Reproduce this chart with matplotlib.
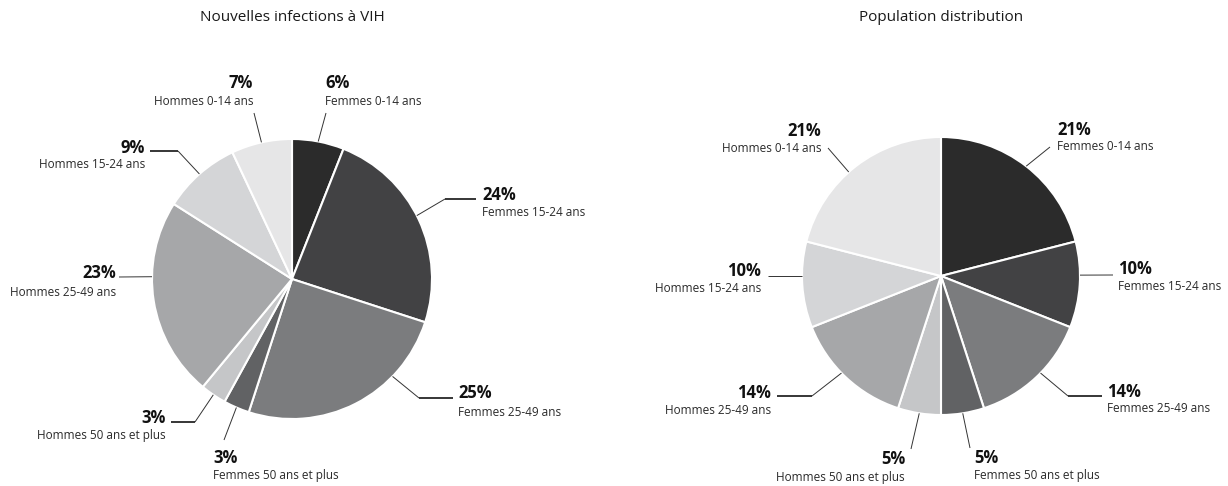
import numpy as np
import matplotlib.pyplot as plt

plt.rcParams['font.family'] = ['Open Sans', 'DejaVu Sans']

# data
categories = ['Femmes 0-14 ans', 'Femmes 15-24 ans', 'Femmes 25-49 ans', 'Femmes 50 ans et plus',
              'Hommes 50 ans et plus', 'Hommes 25-49 ans', 'Hommes 15-24 ans', 'Hommes 0-14 ans']
infections = [6, 24, 25, 3, 3, 23, 9, 7]
population = [21, 10, 14, 5, 5, 14, 10, 21]
titles = ['Nouvelles infections à VIH', 'Population distribution']
colors = ['#2b2b2b', '#424244', '#7b7c7e', '#616264', '#c5c6c8', '#a6a7a9', '#d4d5d7', '#e6e6e7']

W, H = 1228, 486

# layout in pixel coords (y from top): pie center/radius, then per label:
# (anchor fraction in wedge, leader path, ha, text x, pct y, name y)
left_layout = dict(center=(292, 279), r=140, title_y=18, labels=[
    (0.5, [(326, 113)], 'left', 325, 83, 102),
    (0.48, [(445, 199), (476, 199)], 'left', 482, 195, 213),
    (0.29, [(419, 398), (453, 398)], 'left', 458, 393, 413),
    (0.5, [(224, 440)], 'left', 213, 458, 476),
    (0.5, [(195, 422), (171, 422)], 'right', 166, 418, 436),
    (0.62, [(119, 277)], 'right', 116, 273, 293),
    (0.5, [(178, 151), (150, 151)], 'right', 145, 148, 165),
    (0.5, [(254, 113)], 'right', 253, 83, 102),
])
right_layout = dict(center=(941, 276), r=139, title_y=18, labels=[
    (0.5, [(1050, 147)], 'left', 1057, 130, 147),
    (0.39, [(1113, 275)], 'left', 1118, 269, 287),
    (0.45, [(1068, 396), (1102, 396)], 'left', 1107, 392, 409),
    (0.5, [(970, 448)], 'left', 974, 458, 476),
    (0.5, [(911, 449)], 'right', 905, 459, 477),
    (0.55, [(812, 396), (777, 396)], 'right', 771, 393, 411),
    (0.6, [(768, 276)], 'right', 761, 271, 288),
    (0.45, [(828, 148)], 'right', 821, 131, 149),
])

fig = plt.figure(figsize=(W / 100, H / 100), dpi=100)
ax = fig.add_axes([0, 0, 1, 1])

for values, title, lay in [(infections, titles[0], left_layout), (population, titles[1], right_layout)]:
    cx, cy = lay['center']
    r = lay['r']
    wedges, _ = ax.pie(values, colors=colors, startangle=90, counterclock=False,
                       center=(cx, H - cy), radius=r,
                       wedgeprops=dict(edgecolor='white', linewidth=1.5))
    ax.text(cx, H - lay['title_y'], title, ha='center', va='center', fontsize=11, color='#1a1a1a')
    for w, v, cat, (frac, path, ha, tx, ypct, yname) in zip(wedges, values, categories, lay['labels']):
        ang = np.deg2rad(w.theta2 - frac * (w.theta2 - w.theta1))
        x0 = cx + r * np.cos(ang)
        y0 = (H - cy) + r * np.sin(ang)
        xs = [x0] + [p[0] for p in path]
        ys = [y0] + [H - p[1] for p in path]
        ax.plot(xs[:2], ys[:2], color='#333333', lw=0.7, solid_capstyle='butt')
        if len(xs) > 2:
            ax.plot(xs[1:], ys[1:], color='#000000', lw=1.1, solid_capstyle='butt')
        ax.text(tx, H - ypct, f'{v}%', ha=ha, va='center', fontsize=12, fontweight='bold', color='#111111')
        ax.text(tx, H - yname, cat, ha=ha, va='center', fontsize=8.5, color='#2a2a2a')

ax.set_xlim(0, W)
ax.set_ylim(0, H)
ax.set_aspect('equal')
ax.axis('off')

plt.savefig('out.png', dpi=100)
